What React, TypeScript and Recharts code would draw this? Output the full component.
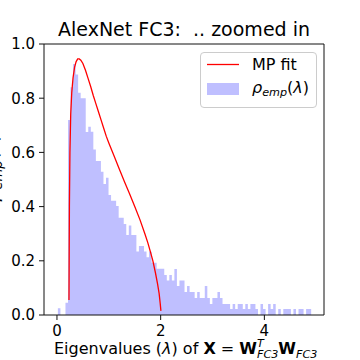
import React from 'react';
import { ComposedChart, Area, Line, XAxis, YAxis, ReferenceArea, Legend } from 'recharts';

// Histogram of empirical eigenvalue density (100 bins)
const BIN_START = 0.0175;
const BIN_WIDTH = 0.04885;
const HIST_HEIGHTS = [
  0.025, 0, 0, 0.045, 0.72, 0.84, 0.926, 0.887, 0.82, 0.8,
  0.8, 0.675, 0.695, 0.676, 0.611, 0.568, 0.568, 0.529, 0.483, 0.506,
  0.443, 0.422, 0.422, 0.402, 0.359, 0.359, 0.336, 0.295, 0.33, 0.295,
  0.295, 0.234, 0.255, 0.255, 0.234, 0.213, 0.234, 0.193, 0.193, 0.171,
  0.171, 0.171, 0.148, 0.127, 0.148, 0.127, 0.17, 0.107, 0.127, 0.127,
  0.085, 0.107, 0.085, 0.085, 0.063, 0.085, 0.063, 0.063, 0.107, 0.063,
  0.041, 0.063, 0.063, 0.085, 0.063, 0.041, 0.041, 0.041, 0.022, 0.041,
  0.022, 0.041, 0.041, 0.022, 0.041, 0.022, 0.041, 0.041, 0.022, 0,
  0.041, 0.022, 0, 0.041, 0.022, 0.041, 0, 0.022, 0, 0.022,
  0.022, 0.022, 0, 0.022, 0, 0.022, 0.022, 0, 0.022, 0.022,
];

// MP fit curve
const MP_LAMBDA = [
  0.232, 0.24, 0.25, 0.265, 0.285, 0.31, 0.34, 0.37, 0.4, 0.43,
  0.46, 0.5, 0.55, 0.6, 0.65, 0.7, 0.75, 0.8, 0.85, 0.9,
  0.95, 1.0, 1.1, 1.2, 1.3, 1.4, 1.5, 1.6, 1.7, 1.75,
  1.8, 1.85, 1.9, 1.94, 1.97, 1.99, 2.005,
];
const MP_DENSITY = [
  0.055, 0.4, 0.6, 0.74, 0.82, 0.875, 0.915, 0.935, 0.945, 0.945,
  0.94, 0.928, 0.903, 0.873, 0.843, 0.81, 0.78, 0.75, 0.72, 0.69,
  0.66, 0.635, 0.588, 0.54, 0.493, 0.447, 0.4, 0.352, 0.297, 0.268,
  0.235, 0.2, 0.155, 0.115, 0.08, 0.045, 0.015,
];

const X_TICKS = [0, 2, 4];
const Y_TICKS = [0, 0.2, 0.4, 0.6, 0.8, 1.0];
const X_DOMAIN: [number, number] = [-0.25, 5.15];
const Y_DOMAIN: [number, number] = [0, 1];

const HIST_COLOR = '#bfbfff';
const LINE_COLOR = '#ff0000';
const AXIS_COLOR = '#111111';
const FONT = 'DejaVu Sans';

type Row = { x: number; h: number | null; mp: number | null };

const rows: Row[] = [];
HIST_HEIGHTS.forEach((h, k) => rows.push({ x: BIN_START + k * BIN_WIDTH, h, mp: null }));
rows.push({ x: BIN_START + HIST_HEIGHTS.length * BIN_WIDTH, h: 0, mp: null });
MP_LAMBDA.forEach((l, i) => rows.push({ x: l, h: null, mp: MP_DENSITY[i] }));
rows.sort((a, b) => a.x - b.x);

const LegendBox = () => (
  <div
    style={{
      width: 117,
      height: 56,
      boxSizing: 'border-box',
      border: '1px solid #cccccc',
      borderRadius: 4,
      background: 'rgba(255,255,255,0.8)',
      position: 'relative',
    }}
  >
    <svg width={117} height={56} style={{ position: 'absolute', left: -1, top: -1 }}>
      <line x1={7} x2={39} y1={12.5} y2={12.5} stroke={LINE_COLOR} strokeWidth={1.3} />
      <rect x={7} y={31} width={32} height={12} fill={HIST_COLOR} />
      <text x={52} y={18} fontSize={16} fontFamily={FONT} fill="#000">MP fit</text>
      <text x={52} y={41} fontSize={16} fontFamily={FONT} fill="#000">
        <tspan fontStyle="italic">ρ</tspan>
        <tspan fontStyle="italic" fontSize={11.2} dy={3}>emp</tspan>
        <tspan dy={-3}>(</tspan>
        <tspan fontStyle="italic">λ</tspan>
        <tspan>)</tspan>
      </text>
    </svg>
  </div>
);

export default function App() {
  return (
    <div style={{ position: 'absolute', left: 0, top: 0, width: 360, height: 360, background: '#fff' }}>
      <ComposedChart
        width={360}
        height={360}
        data={rows}
        margin={{ top: 44, right: 36, bottom: 0, left: 0 }}
      >
        <XAxis
          dataKey="x"
          type="number"
          domain={X_DOMAIN}
          allowDataOverflow
          ticks={X_TICKS}
          height={45}
          tickSize={5}
          tickMargin={5}
          axisLine={false}
          tickLine={{ stroke: AXIS_COLOR }}
          tick={{ fill: '#000', fontSize: 15, fontFamily: FONT }}
        />
        <YAxis
          type="number"
          domain={Y_DOMAIN}
          allowDataOverflow
          ticks={Y_TICKS}
          width={44}
          tickSize={5}
          tickMargin={4}
          axisLine={false}
          tickLine={{ stroke: AXIS_COLOR }}
          tick={{ fill: '#000', fontSize: 15, fontFamily: FONT }}
          tickFormatter={(v: number) => v.toFixed(1)}
        />
        <Area
          dataKey="h"
          type="stepAfter"
          connectNulls
          fill={HIST_COLOR}
          fillOpacity={1}
          stroke="none"
          dot={false}
          activeDot={false}
          isAnimationActive={false}
        />
        <Line
          dataKey="mp"
          type="linear"
          connectNulls
          stroke={LINE_COLOR}
          strokeWidth={1.3}
          dot={false}
          activeDot={false}
          isAnimationActive={false}
        />
        <ReferenceArea
          x1={X_DOMAIN[0]}
          x2={X_DOMAIN[1]}
          y1={Y_DOMAIN[0]}
          y2={Y_DOMAIN[1]}
          fill="none"
          fillOpacity={0}
          stroke={AXIS_COLOR}
          strokeWidth={1}
          ifOverflow="visible"
        />
        <Legend
          layout="horizontal"
          verticalAlign="middle"
          align="center"
          content={() => <LegendBox />}
          wrapperStyle={{ left: 200, top: 52, width: 117, height: 56 }}
        />
      </ComposedChart>
      <svg
        width={360}
        height={360}
        style={{ position: 'absolute', left: 0, top: 0, pointerEvents: 'none' }}
      >
        <text
          x={184}
          y={36}
          textAnchor="middle"
          fontSize={19}
          fontFamily={FONT}
          fill="#000"
          style={{ whiteSpace: 'pre' }}
        >
          {'AlexNet FC3:  .. zoomed in'}
        </text>
        <text x={54} y={354} fontSize={16} fontFamily={FONT} fill="#000" style={{ whiteSpace: 'pre' }}>
          <tspan>{'Eigenvalues ('}</tspan>
          <tspan fontStyle="italic">λ</tspan>
          <tspan>{') of '}</tspan>
          <tspan fontWeight="bold">X</tspan>
          <tspan>{' = '}</tspan>
          <tspan fontWeight="bold">W</tspan>
          <tspan fontStyle="italic" fontSize={11.2} dy={-7}>T</tspan>
          <tspan fontStyle="italic" fontSize={11.2} dx={-6.8} dy={11}>FC3</tspan>
          <tspan fontWeight="bold" dy={-4}>W</tspan>
          <tspan fontStyle="italic" fontSize={11.2} dy={4}>FC3</tspan>
        </text>
        <text
          transform="translate(-2,168) rotate(-90)"
          textAnchor="middle"
          fontSize={19}
          fontFamily={FONT}
          fill="#000"
        >
          <tspan fontStyle="italic">ρ</tspan>
          <tspan fontStyle="italic" fontSize={13.3} dy={3.5}>emp</tspan>
          <tspan dy={-3.5}>(</tspan>
          <tspan fontStyle="italic">λ</tspan>
          <tspan>)</tspan>
        </text>
      </svg>
    </div>
  );
}
